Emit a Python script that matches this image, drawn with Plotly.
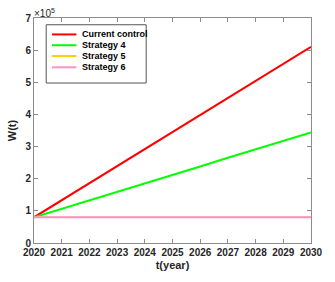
import plotly.graph_objects as go

years = [2020, 2021, 2022, 2023, 2024, 2025, 2026, 2027, 2028, 2029, 2030]
current_control = [0.80, 1.33, 1.86, 2.39, 2.92, 3.45, 3.98, 4.51, 5.04, 5.57, 6.10]
strategy4 = [0.80, 1.06, 1.33, 1.59, 1.86, 2.12, 2.38, 2.65, 2.91, 3.18, 3.44]
strategy5 = [0.80, 0.80, 0.80, 0.80, 0.80, 0.80, 0.80, 0.80, 0.80, 0.80, 0.80]
strategy6 = [0.80, 0.80, 0.80, 0.80, 0.80, 0.80, 0.80, 0.80, 0.80, 0.80, 0.80]
scale = 1e5
y_ticks = [0, 1, 2, 3, 4, 5, 6, 7]

FONT = "Liberation Sans, Arial"
fig = go.Figure()
series = [
    ("Current control", current_control, "#ff0000", 2),
    ("Strategy 4", strategy4, "#00ff00", 2),
    ("Strategy 5", strategy5, "#ffcc00", 1.5),
    ("Strategy 6", strategy6, "#ff90c8", 2),
]
for name, vals, col, w in series:
    fig.add_trace(go.Scatter(x=years, y=[v * scale for v in vals], mode="lines",
                             name=name, line=dict(color=col, width=w), showlegend=False))

# manual legend (MATLAB-style compact spacing)
fig.add_shape(type="rect", xref="paper", yref="paper", x0=0.044, x1=0.405, y0=0.711, y1=0.970,
              line=dict(color="#555555", width=1), fillcolor="white", layer="above")
legend_y = [0.927, 0.879, 0.831, 0.781]
for (name, vals, col, w), ly in zip(series, legend_y):
    fig.add_shape(type="line", xref="paper", yref="paper", x0=0.065, x1=0.153, y0=ly, y1=ly,
                  line=dict(color=col, width=2), layer="above")
    fig.add_annotation(x=0.165, y=ly, xref="paper", yref="paper", xanchor="left", yanchor="middle",
                       text=f"<b>{name}</b>", showarrow=False,
                       font=dict(family=FONT, size=9, color="#000000"))

axis_common = dict(showgrid=False, zeroline=False, showline=True, linecolor="#8c8c8c",
                   linewidth=1, mirror="ticks", ticks="inside", ticklen=4,
                   tickcolor="#8c8c8c", tickfont=dict(family=FONT, size=10, color="#262626"))

fig.update_layout(
    width=335, height=282,
    margin=dict(l=28, r=13, t=16, b=34),
    paper_bgcolor="white", plot_bgcolor="white",
    font=dict(family=FONT, size=10, color="#262626"),
    showlegend=False,
    xaxis=dict(range=[2020, 2030], tickvals=years, ticktext=[f"<b>{y}</b>" for y in years],
               title=dict(text="<b>t(year)</b>", standoff=4,
                          font=dict(family=FONT, size=11, color="#262626")),
               **axis_common),
    yaxis=dict(range=[0, 7 * scale], tickvals=[t * scale for t in y_ticks],
               ticktext=[f"<b>{t}</b>" for t in y_ticks],
               title=dict(text="<b>W(t)</b>", standoff=6,
                          font=dict(family=FONT, size=11, color="#262626")),
               **axis_common),
)
fig.add_annotation(x=0, y=1, xref="paper", yref="paper", xanchor="left", yanchor="bottom",
                   text="×10<sup>5</sup>", showarrow=False, xshift=-2, yshift=-3,
                   font=dict(family=FONT, size=10, color="#262626"))

fig.write_html("out.html", config={"displayModeBar": False},
               post_script="document.body.style.margin='0';")
